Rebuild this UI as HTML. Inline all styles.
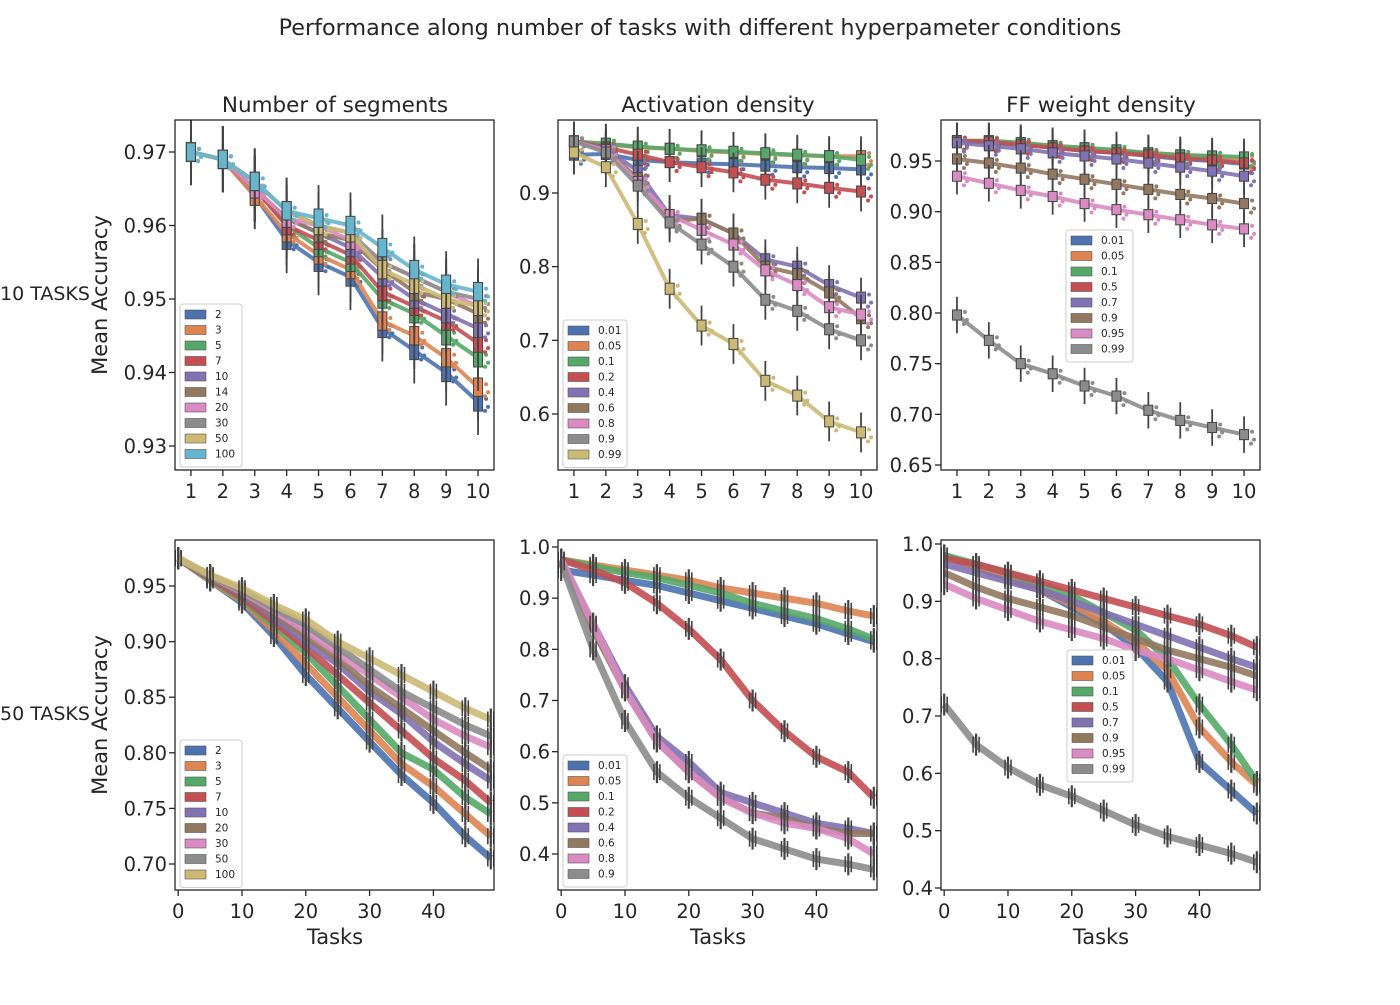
<!DOCTYPE html>
<html><head><meta charset="utf-8"><style>
body{margin:0;background:#fff;}
svg text{font-family:"DejaVu Sans","Liberation Sans",sans-serif;fill:#262626;}
</style></head><body>
<svg id="chart" width="1400" height="1000" xmlns="http://www.w3.org/2000/svg">
<rect width="1400" height="1000" fill="#fff"/>
<text x="700" y="35" font-size="22.3" text-anchor="middle">Performance along number of tasks with different hyperpameter conditions</text>
<text x="0" y="300" font-size="19">10 TASKS</text>
<text x="0" y="720" font-size="19">50 TASKS</text>
</svg>
<script>
const C=['#4c72b0','#dd8452','#55a868','#c44e52','#8172b3','#937860','#da8bc3','#8c8c8c','#ccb974','#64b5cd'];
const tasks10=[1,2,3,4,5,6,7,8,9,10];
const tasks50=[0,5,10,15,20,25,30,35,40,45,49];
// Panel A: number of segments (10 tasks)
const segLabels=['2','3','5','7','10','14','20','30','50','100'];
const seg2=[.970,.969,.964,.958,.955,.953,.946,.943,.940,.936];
const seg3=[.970,.969,.964,.959,.956,.954,.947,.945,.942,.938];
const seg5=[.970,.969,.965,.960,.957,.955,.950,.948,.945,.942];
const seg7=[.970,.969,.965,.960,.958,.956,.951,.949,.947,.944];
const seg10=[.970,.969,.965,.961,.959,.957,.953,.950,.948,.946];
const seg14=[.970,.969,.965,.961,.959,.958,.954,.951,.950,.948];
const seg20=[.970,.969,.965,.961,.960,.958,.955,.953,.951,.949];
const seg30=[.970,.969,.966,.962,.960,.959,.955,.953,.951,.950];
const seg50=[.970,.969,.966,.962,.960,.959,.954,.952,.950,.949];
const seg100=[.970,.969,.966,.962,.961,.960,.957,.954,.952,.951];
// Panel B: activation density (10 tasks)
const actLabels=['0.01','0.05','0.1','0.2','0.4','0.6','0.8','0.9','0.99'];
const act001=[.952,.953,.945,.942,.940,.939,.937,.935,.934,.932];
const act005=[.970,.966,.962,.960,.957,.955,.953,.951,.950,.950];
const act01=[.970,.967,.963,.960,.958,.956,.954,.952,.950,.945];
const act02=[.970,.962,.952,.942,.935,.928,.918,.913,.907,.902];
const act04=[.970,.960,.930,.870,.865,.845,.810,.800,.775,.758];
const act06=[.970,.958,.920,.862,.865,.845,.800,.790,.765,.730];
const act08=[.970,.958,.915,.870,.850,.830,.795,.775,.745,.735];
const act09=[.970,.955,.910,.860,.830,.800,.755,.740,.715,.700];
const act099=[.955,.935,.858,.770,.720,.695,.645,.625,.590,.575];
// Panel C: FF weight density (10 tasks)
const ffLabels=['0.01','0.05','0.1','0.5','0.7','0.9','0.95','0.99'];
const ff001=[.970,.968,.966,.963,.960,.958,.955,.952,.950,.947];
const ff005=[.970,.970,.968,.965,.963,.960,.958,.956,.954,.952];
const ff01=[.970,.970,.968,.965,.963,.961,.958,.956,.955,.954];
const ff05=[.970,.969,.966,.963,.960,.958,.956,.953,.951,.948];
const ff07=[.968,.965,.962,.958,.955,.952,.948,.944,.940,.935];
const ff09=[.952,.948,.943,.937,.932,.927,.922,.917,.913,.908];
const ff095=[.935,.928,.921,.915,.908,.902,.897,.892,.887,.883];
const ff099=[.798,.773,.750,.740,.728,.718,.704,.694,.687,.680];
// Panel D: segments (50 tasks)
const segLabels50=['2','3','5','7','10','20','30','50','100'];
const s50_2=[.975,.955,.935,.905,.87,.84,.81,.78,.755,.725,.705];
const s50_3=[.975,.955,.937,.91,.88,.85,.82,.79,.77,.745,.725];
const s50_5=[.975,.956,.938,.915,.89,.86,.83,.80,.785,.76,.745];
const s50_7=[.975,.957,.94,.918,.895,.87,.845,.82,.795,.775,.755];
const s50_10=[.975,.958,.943,.922,.90,.88,.855,.835,.81,.79,.775];
const s50_20=[.975,.958,.944,.925,.905,.885,.86,.84,.82,.80,.785];
const s50_30=[.975,.959,.945,.928,.91,.89,.87,.85,.83,.815,.805];
const s50_50=[.975,.959,.946,.93,.915,.895,.875,.855,.84,.825,.815];
const s50_100=[.975,.96,.948,.933,.92,.90,.885,.87,.855,.84,.83];
// Panel E: activation (50 tasks)
const actLabels50=['0.01','0.05','0.1','0.2','0.4','0.6','0.8','0.9'];
const a50_001=[.955,.945,.935,.925,.91,.895,.88,.865,.85,.83,.815];
const a50_005=[.975,.965,.955,.945,.935,.92,.91,.90,.89,.875,.865];
const a50_01=[.975,.962,.95,.94,.925,.91,.89,.875,.86,.84,.82];
const a50_02=[.975,.955,.93,.89,.84,.78,.70,.64,.59,.56,.51];
const a50_04=[.975,.85,.73,.63,.58,.52,.50,.48,.46,.45,.44];
const a50_06=[.975,.84,.72,.62,.56,.51,.48,.47,.45,.44,.44];
const a50_08=[.975,.85,.72,.62,.56,.51,.48,.46,.45,.43,.40];
const a50_09=[.97,.80,.66,.56,.51,.47,.43,.41,.39,.38,.37];
// Panel F: FF weight (50 tasks)
const f50_001=[.98,.96,.94,.92,.89,.86,.82,.76,.62,.57,.53];
const f50_005=[.98,.96,.94,.92,.895,.865,.83,.78,.68,.62,.58];
const f50_01=[.98,.965,.95,.93,.91,.88,.85,.80,.72,.65,.585];
const f50_05=[.975,.965,.95,.935,.92,.905,.89,.875,.86,.84,.82];
const f50_07=[.965,.95,.935,.92,.90,.88,.86,.84,.82,.80,.785];
const f50_09=[.95,.925,.905,.89,.875,.855,.835,.815,.80,.785,.77];
const f50_095=[.93,.905,.885,.865,.85,.835,.815,.80,.78,.76,.745];
const f50_099=[.72,.65,.61,.58,.56,.535,.51,.49,.475,.46,.445];
// Tick labels
const yTicksA=[0.93,0.94,0.95,0.96,0.97];
const yTicksB=[0.6,0.7,0.8,0.9];
const yTicksC=[0.65,0.70,0.75,0.80,0.85,0.90,0.95];
const yTicksD=[0.70,0.75,0.80,0.85,0.90,0.95];
const yTicksE=[0.4,0.5,0.6,0.7,0.8,0.9,1.0];
const yTicksF=[0.4,0.5,0.6,0.7,0.8,0.9,1.0];
const xTicks50=[0,10,20,30,40];

const svg=document.getElementById('chart');
const NS='http://www.w3.org/2000/svg';
function mk(tag,attrs,parent){const e=document.createElementNS(NS,tag);for(const k in attrs)e.setAttribute(k,attrs[k]);(parent||svg).appendChild(e);return e;}

function panel(o){
  const g=mk('g',{});
  
  
  const L=o.x0,R=o.x0+319,T=o.y0,B=o.y0+350;
  const y=v=>o.yA+(v-o.v1)*(o.yB-o.yA)/(o.v2-o.v1);
  const x=o.cat?(t=>L+(t-0.5)*31.9):(t=>L+(t+0.5)*6.38);
  const clip='c'+o.name;
  const cp=mk('clipPath',{id:clip},g);mk('rect',{x:L,y:T,width:319,height:350},cp);
  const pg=mk('g',{'clip-path':'url(#'+clip+')'},g);
  o.series.forEach((s,i)=>{
    const col=C[i];
    const sg=mk('g',{},pg);
    
    
    const xs=o.cat?tasks10:tasks50;
    const pts=s.map((v,j)=>x(xs[j]).toFixed(1)+','+y(v).toFixed(1)).join(' ');
    mk('polyline',{points:pts,fill:'none',stroke:col,'stroke-width':o.cat?4:7,'stroke-linejoin':'round',opacity:0.9},sg);
    s.forEach((v,j)=>{
      const cx=x(xs[j]),cy=y(v);
      if(o.cat){
        const h=Math.max(7,(o.spread||0.003)*Math.abs(o.yB-o.yA)/Math.abs(o.v2-o.v1));
        mk('line',{x1:cx,x2:cx,y1:cy-h*1.8,y2:cy+h*1.8,stroke:'#444','stroke-width':1.8},sg);
        const b=mk('rect',{x:cx-4.5,y:cy-h/2,width:9,height:h,fill:col,stroke:'#444','stroke-width':1},sg);
        
        
        mk('circle',{cx:cx+8,cy:cy-3,r:2,fill:col},sg);
        mk('circle',{cx:cx+10,cy:cy+5,r:2,fill:col},sg);
        mk('circle',{cx:cx+7,cy:cy+9,r:2,fill:col},sg);
      } else {
        mk('line',{x1:cx,x2:cx,y1:cy-11,y2:cy+11,stroke:'#444','stroke-width':2.2},sg);
        mk('line',{x1:cx+3,x2:cx+3,y1:cy-8,y2:cy+8,stroke:'#444','stroke-width':1.6},sg);
        mk('line',{x1:cx-3,x2:cx-3,y1:cy-8,y2:cy+8,stroke:'#444','stroke-width':1.6},sg);
      }
    });
  });
  mk('rect',{x:L,y:T,width:319,height:350,fill:'none',stroke:'#262626','stroke-width':1.3},g);
  o.yt.forEach(v=>{const yy=y(v);
    mk('line',{x1:L-6,x2:L,y1:yy,y2:yy,stroke:'#262626','stroke-width':1.3},g);
    const t=mk('text',{x:L-8,y:yy+7,'font-size':19.5,'text-anchor':'end'},g);t.textContent=o.fmt(v);
    });
  const xt=o.cat?tasks10:xTicks50;
  xt.forEach(v=>{const xx=x(v);
    mk('line',{x1:xx,x2:xx,y1:B,y2:B+6,stroke:'#262626','stroke-width':1.3},g);
    const t=mk('text',{x:xx,y:B+28,'font-size':19.5,'text-anchor':'middle'},g);t.textContent=v;
    });
  if(o.title){const t=mk('text',{x:L+160,y:T-8,'font-size':21.5,'text-anchor':'middle'},g);t.textContent=o.title;
    }
  if(o.ylabel){const t=mk('text',{x:0,y:0,'font-size':21,'text-anchor':'middle',transform:`translate(107,${T+175}) rotate(-90)`},g);t.textContent='Mean Accuracy';
    }
  if(!o.cat){const t=mk('text',{x:L+160,y:B+54,'font-size':21,'text-anchor':'middle'},g);t.textContent='Tasks';
    }
  const lg=mk('g',{},g);
  
  
  const n=o.labels.length,lh=15.5;
  mk('rect',{x:o.lx,y:o.ly,width:o.lw,height:n*lh+8,rx:3,fill:'#fff','fill-opacity':0.85,stroke:'#ccc'},lg);
  o.labels.forEach((lab,i)=>{
    const e=mk('g',{},lg);
    
    
    mk('rect',{x:o.lx+5,y:o.ly+6+i*lh,width:21,height:9,fill:C[i],stroke:'#555','stroke-width':0.6},e);
    const t=mk('text',{x:o.lx+35,y:o.ly+14+i*lh,'font-size':10.5},e);t.textContent=lab;
  });
}
const f2=v=>v.toFixed(2),f1=v=>v.toFixed(1);
panel({name:'panel-segments-10',x0:175,y0:120,cat:true,yA:152,v1:0.97,yB:446,v2:0.93,yt:yTicksA,fmt:f2,title:'Number of segments',ylabel:true,
  series:[seg2,seg3,seg5,seg7,seg10,seg14,seg20,seg30,seg50,seg100],labels:segLabels,lx:180,ly:304,lw:62,spread:0.0025});
panel({name:'panel-activation-10',x0:558,y0:120,cat:true,yA:193,v1:0.9,yB:414,v2:0.6,yt:yTicksB,fmt:f1,title:'Activation density',
  series:[act001,act005,act01,act02,act04,act06,act08,act09,act099],labels:actLabels,lx:563,ly:320,lw:64,spread:0.015});
panel({name:'panel-ffweight-10',x0:941,y0:120,cat:true,yA:161,v1:0.95,yB:465,v2:0.65,yt:yTicksC,fmt:f2,title:'FF weight density',
  series:[ff001,ff005,ff01,ff05,ff07,ff09,ff095,ff099],labels:ffLabels,lx:1066,ly:230,lw:67,spread:0.01});
panel({name:'panel-segments-50',x0:175,y0:540,cat:false,yA:586,v1:0.95,yB:864,v2:0.70,yt:yTicksD,fmt:f2,ylabel:true,
  series:[s50_2,s50_3,s50_5,s50_7,s50_10,s50_20,s50_30,s50_50,s50_100],labels:segLabels50,lx:180,ly:740,lw:62});
panel({name:'panel-activation-50',x0:558,y0:540,cat:false,yA:547,v1:1.0,yB:854,v2:0.4,yt:yTicksE,fmt:f1,
  series:[a50_001,a50_005,a50_01,a50_02,a50_04,a50_06,a50_08,a50_09],labels:actLabels50,lx:563,ly:755,lw:64});
panel({name:'panel-ffweight-50',x0:941,y0:540,cat:false,yA:544,v1:1.0,yB:888,v2:0.4,yt:yTicksF,fmt:f1,
  series:[f50_001,f50_005,f50_01,f50_05,f50_07,f50_09,f50_095,f50_099],labels:ffLabels,lx:1067,ly:650,lw:66});
</script>
</body></html>
